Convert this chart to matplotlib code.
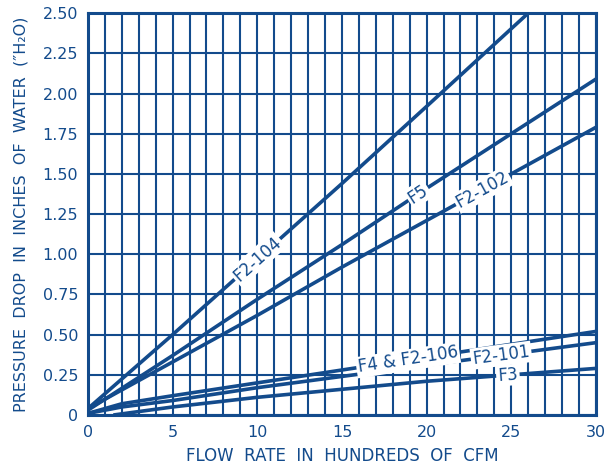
import matplotlib
matplotlib.use("Agg")
import matplotlib.pyplot as plt
import numpy as np

BLUE = "#134b8c"

# ---- data ----
f2_104_x = [0, 5, 10, 15, 20, 26]
f2_104_y = [0.04, 0.50, 0.97, 1.44, 1.92, 2.50]

f5_x = [0, 5, 10, 15, 20, 25, 30]
f5_y = [0.03, 0.37, 0.72, 1.06, 1.41, 1.75, 2.09]

f2_102_x = [0, 5, 10, 15, 20, 25, 30]
f2_102_y = [0.04, 0.33, 0.62, 0.92, 1.21, 1.50, 1.79]

f4_x = [0, 2, 5, 10, 15, 20, 25, 30]
f4_y = [0.01, 0.07, 0.12, 0.20, 0.28, 0.36, 0.44, 0.52]

f2_101_x = [0, 2, 5, 10, 15, 20, 25, 30]
f2_101_y = [0.01, 0.05, 0.09, 0.17, 0.24, 0.31, 0.38, 0.45]

f3_x = [1.5, 5, 10, 15, 20, 25, 30]
f3_y = [0.0, 0.05, 0.11, 0.16, 0.21, 0.25, 0.29]

series_names = ["F2-104", "F5", "F2-102", "F4 & F2-106", "F2-101", "F3"]
label_x = [10.0, 19.5, 23.3, 18.9, 24.4, 24.8]

x_ticks = [0, 5, 10, 15, 20, 25, 30]
y_ticks = [0, 0.25, 0.5, 0.75, 1.0, 1.25, 1.5, 1.75, 2.0, 2.25, 2.5]
y_tick_labels = ["0", "0.25", "0.50", "0.75", "1.00", "1.25", "1.50",
                 "1.75", "2.00", "2.25", "2.50"]

fig = plt.figure(figsize=(6.15, 4.70), dpi=100)
ax = fig.add_axes([0.143, 0.117, 0.826, 0.855])
ax.set_xlim(0, 30)
ax.set_ylim(0, 2.5)

# grid
for gx in range(0, 31):
    ax.axvline(gx, color=BLUE, lw=1.5, zorder=1)
for gy in np.arange(0, 2.51, 0.25):
    ax.axhline(gy, color=BLUE, lw=1.5, zorder=1)

xs = [f2_104_x, f5_x, f2_102_x, f4_x, f2_101_x, f3_x]
ys = [f2_104_y, f5_y, f2_102_y, f4_y, f2_101_y, f3_y]
for x, y in zip(xs, ys):
    ax.plot(x, y, color=BLUE, lw=2.6, zorder=3, solid_capstyle="butt")

fig.canvas.draw()
for name, lx, x, y in zip(series_names, label_x, xs, ys):
    ly = float(np.interp(lx, x, y))
    p1 = ax.transData.transform((lx - 1, np.interp(lx - 1, x, y)))
    p2 = ax.transData.transform((lx + 1, np.interp(lx + 1, x, y)))
    ang = np.degrees(np.arctan2(p2[1] - p1[1], p2[0] - p1[0]))
    ax.text(lx, ly, name, rotation=ang, rotation_mode="anchor",
            ha="center", va="center", color=BLUE, fontsize=12, zorder=5,
            bbox=dict(facecolor="white", edgecolor="none", pad=1.2))

ax.set_xticks(x_ticks)
ax.set_xticklabels([str(t) for t in x_ticks])
ax.set_yticks(y_ticks)
ax.set_yticklabels(y_tick_labels)
ax.tick_params(length=0, colors=BLUE, labelsize=11.5, pad=7)
for s in ax.spines.values():
    s.set_color(BLUE)
    s.set_linewidth(2.2)

ax.set_xlabel("FLOW  RATE  IN  HUNDREDS  OF  CFM", color=BLUE, fontsize=12, labelpad=5)
ax.set_ylabel("PRESSURE  DROP  IN  INCHES  OF  WATER  (\u2033H\u2082O)", color=BLUE,
              fontsize=11.5, labelpad=10)

fig.savefig("out.png", dpi=100)
